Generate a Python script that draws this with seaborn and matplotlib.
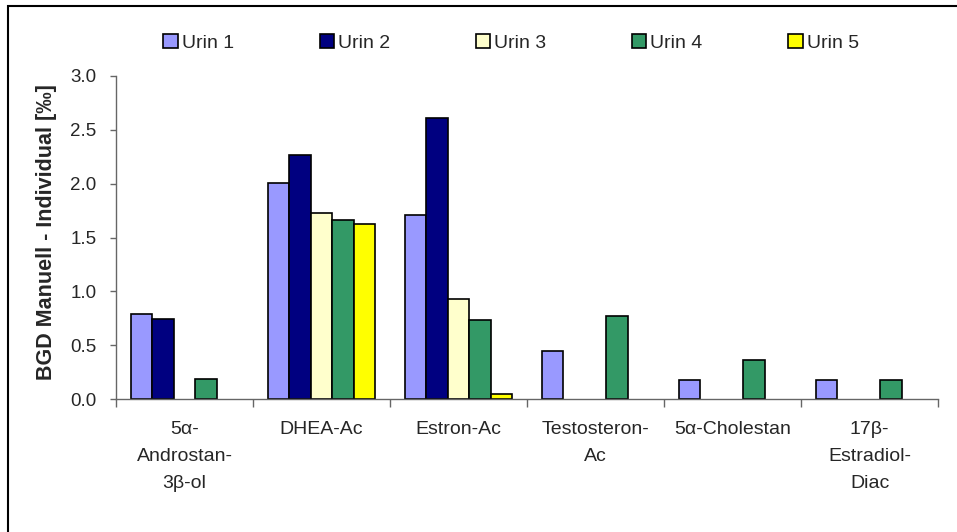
import numpy as np
import pandas as pd
import matplotlib
matplotlib.use("Agg")
import matplotlib.pyplot as plt
import seaborn as sns
from matplotlib.patches import Rectangle

# ── data ──────────────────────────────────────────────
compounds = ["5α-\nAndrostan-\n3β-ol", "DHEA-Ac", "Estron-Ac",
             "Testosteron-\nAc", "5α-Cholestan", "17β-\nEstradiol-\nDiac"]
series = ["Urin 1", "Urin 2", "Urin 3", "Urin 4", "Urin 5"]
urin1 = [0.79, 2.01, 1.71, 0.45, 0.18, 0.18]
urin2 = [0.74, 2.27, 2.61, np.nan, np.nan, np.nan]
urin3 = [np.nan, 1.73, 0.93, np.nan, np.nan, np.nan]
urin4 = [0.19, 1.66, 0.73, 0.77, 0.36, 0.18]
urin5 = [np.nan, 1.63, 0.05, np.nan, np.nan, np.nan]
colors = ["#9999FF", "#000080", "#FFFFCC", "#339966", "#FFFF00"]

df = pd.DataFrame({"compound": compounds * 5,
                   "urin": np.repeat(series, len(compounds)),
                   "value": urin1 + urin2 + urin3 + urin4 + urin5})

# ── plot ──────────────────────────────────────────────
sns.set_style("white")
plt.rcParams["font.family"] = ["Liberation Sans", "DejaVu Sans"]

fig = plt.figure(figsize=(9.57, 5.32), dpi=100)
ax = fig.add_axes([116 / 957, 1 - 399 / 532, (938 - 116) / 957, (399 - 76) / 532])

sns.barplot(data=df, x="compound", y="value", hue="urin", order=compounds,
            hue_order=series, palette=colors, width=0.78, gap=0,
            edgecolor="black", linewidth=1.2, saturation=1, ax=ax, legend=True)

ax.set_ylim(0, 3.0)
ax.set_yticks(np.arange(0, 3.01, 0.5))
ax.set_yticklabels([f"{v:.1f}" for v in np.arange(0, 3.01, 0.5)], fontsize=13.5)
ax.set_xlim(-0.5, len(compounds) - 0.5)
ax.set_xticks(np.arange(-0.5, len(compounds), 1.0), minor=True)
ax.set_xticks(range(len(compounds)))
ax.set_xticklabels(compounds, fontsize=14, linespacing=1.75)
ax.tick_params(axis="x", which="major", length=0, pad=16)
ax.tick_params(axis="x", which="minor", length=6, color="#666666", width=1, direction="out", bottom=True)
ax.tick_params(axis="y", length=4, color="#666666", width=1, direction="out", left=True, pad=10)
ax.set_xlabel("")
ax.set_ylabel("BGD Manuell - Individual [‰]", fontsize=15.5, fontweight="bold")
ax.yaxis.set_label_coords(57 / 957, 1 - 232 / 532, transform=fig.transFigure)

for side in ["top", "right"]:
    ax.spines[side].set_visible(False)
for side in ["left", "bottom"]:
    ax.spines[side].set_color("#666666")
    ax.spines[side].set_linewidth(1)

ax.legend(ncol=5, loc="center", bbox_to_anchor=(0.534, (532 - 43) / 532),
          bbox_transform=fig.transFigure, frameon=False, fontsize=14,
          handlelength=0.75, handleheight=0.75, handletextpad=0.2,
          columnspacing=4.4)

# outer chart-area border
fig.patches.append(Rectangle((8 / 957, -0.1), 1.2, 1 - 6 / 532 + 0.1,
                             transform=fig.transFigure, fill=False,
                             edgecolor="black", linewidth=1.5))

plt.savefig("out.png", dpi=100)
plt.close()
